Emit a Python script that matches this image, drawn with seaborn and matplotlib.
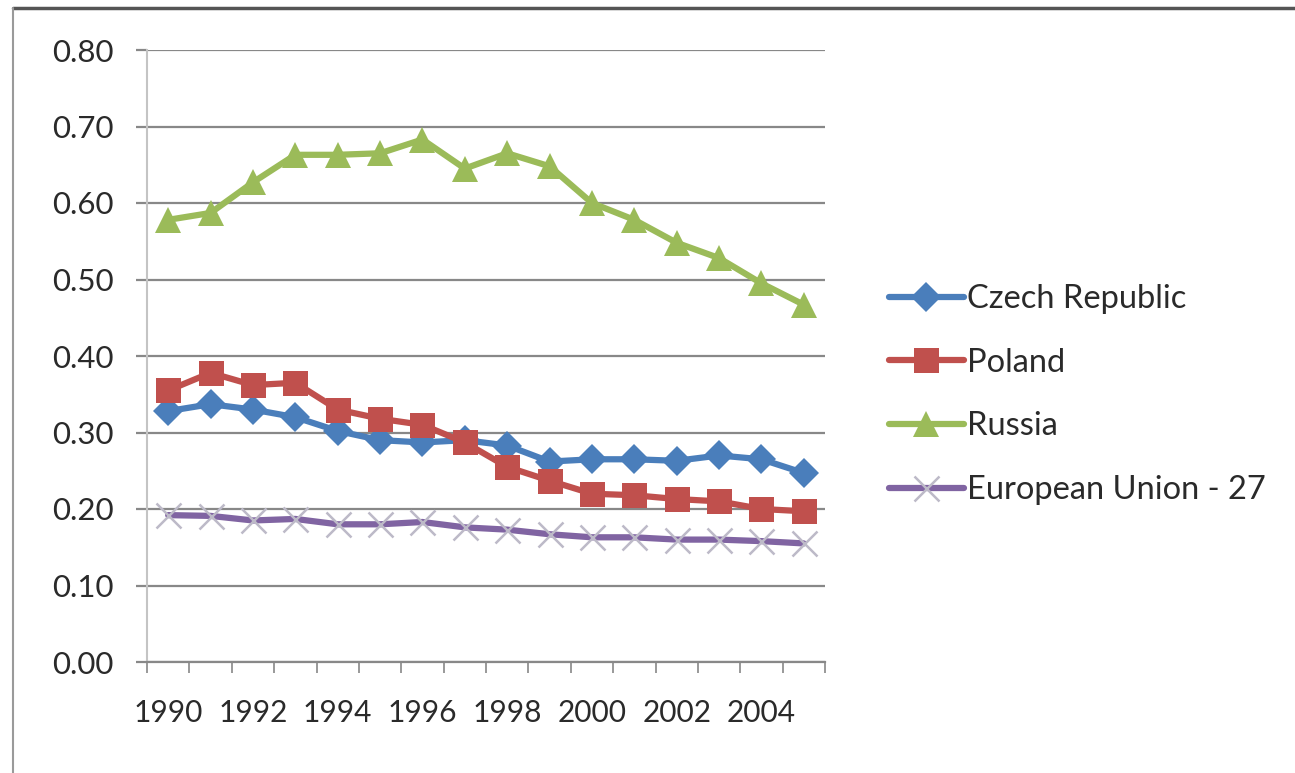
import numpy as np
import pandas as pd
import matplotlib
matplotlib.use("Agg")
import matplotlib.pyplot as plt
from matplotlib.lines import Line2D
import seaborn as sns

years = list(range(1990, 2006))
countries = ["Czech Republic", "Poland", "Russia", "European Union - 27"]

czech = [0.328, 0.337, 0.330, 0.320, 0.302, 0.290, 0.287, 0.290,
         0.283, 0.262, 0.265, 0.265, 0.263, 0.270, 0.265, 0.247]
poland = [0.355, 0.378, 0.362, 0.365, 0.330, 0.318, 0.310, 0.287,
          0.255, 0.237, 0.220, 0.218, 0.213, 0.210, 0.200, 0.197]
russia = [0.578, 0.587, 0.627, 0.663, 0.663, 0.665, 0.683, 0.645,
          0.665, 0.648, 0.600, 0.578, 0.548, 0.528, 0.495, 0.467]
eu27 = [0.192, 0.191, 0.185, 0.187, 0.180, 0.180, 0.183, 0.176,
        0.173, 0.167, 0.163, 0.163, 0.160, 0.160, 0.158, 0.155]

y_ticks = [0.0, 0.1, 0.2, 0.3, 0.4, 0.5, 0.6, 0.7, 0.8]
x_labels = list(range(1990, 2005, 2))

df = pd.DataFrame({
    "year": years * 4,
    "value": czech + poland + russia + eu27,
    "series": sum([[c] * len(years) for c in countries], []),
})

styles = {
    "Czech Republic": dict(color="#4A7EBB", marker="D", markersize=15,
                           markeredgewidth=0),
    "Poland": dict(color="#C0504D", marker="s", markersize=18,
                   markeredgewidth=0),
    "Russia": dict(color="#9BBB59", marker="^", markersize=19,
                   markeredgewidth=0),
    "European Union - 27": dict(color="#8064A2", marker="x", markersize=18,
                                markeredgewidth=1.8,
                                markeredgecolor="#bdbac8"),
}

sns.set_theme(style="white")
plt.rcParams["font.family"] = ["Lato", "DejaVu Sans"]

fig = plt.figure(figsize=(12.95, 7.73), dpi=100)
ax = fig.add_axes([147 / 1295, 1 - 662 / 773, (825 - 147) / 1295, (662 - 50) / 773])

for name in countries:
    sub = df[df["series"] == name]
    sns.lineplot(data=sub, x="year", y="value", label=name, linewidth=4.5,
                 solid_joinstyle="round", ax=ax, **styles[name])

ax.set_xlim(1989.5, 2005.5)
ax.set_ylim(0, 0.8)
ax.set_yticks(y_ticks)
ax.set_yticklabels([f"{v:.2f}" for v in y_ticks])
ax.yaxis.grid(True, color="#888888", linewidth=1.6)
ax.set_axisbelow(True)

# category boundary tick marks, labels every second year
ax.set_xticks(np.arange(1989.5, 2006, 1.0))
ax.set_xticklabels([])
ax.set_xticks(x_labels, minor=True)
ax.set_xticklabels([str(y) for y in x_labels], minor=True)
ax.tick_params(axis="x", which="major", direction="out", length=8, width=1.2,
               color="#888888", bottom=True)
ax.tick_params(axis="x", which="minor", length=0, pad=27, labelsize=21.5,
               labelcolor="#2a2a2a")
ax.tick_params(axis="y", direction="out", length=8, width=1.6, color="#888888",
               left=True, pad=16, labelsize=22.5, labelcolor="#2a2a2a")

for side in ["top", "right"]:
    ax.spines[side].set_visible(False)
ax.spines["left"].set_color("#c4c4c4")
ax.spines["left"].set_linewidth(1.5)
ax.spines["bottom"].set_color("#888888")
ax.spines["bottom"].set_linewidth(1.6)
ax.set_xlabel("")
ax.set_ylabel("")

handles, labels = ax.get_legend_handles_labels()
leg = ax.legend(handles, labels, loc="center left",
                bbox_to_anchor=(1.075, 0.437), frameon=False,
                fontsize=23.5, handlelength=2.3, handletextpad=0.1,
                labelspacing=1.03, borderaxespad=0)
for txt in leg.get_texts():
    txt.set_color("#2a2a2a")

# chart border
fig.add_artist(Line2D([13 / 1295, 1.0], [1 - 8 / 773, 1 - 8 / 773],
                      transform=fig.transFigure, color="#555555", linewidth=2.5))
fig.add_artist(Line2D([13 / 1295, 13 / 1295], [0.0, 1 - 8 / 773],
                      transform=fig.transFigure, color="#9a9a9a", linewidth=1.5))

fig.savefig("out.png", dpi=100, facecolor="white")
